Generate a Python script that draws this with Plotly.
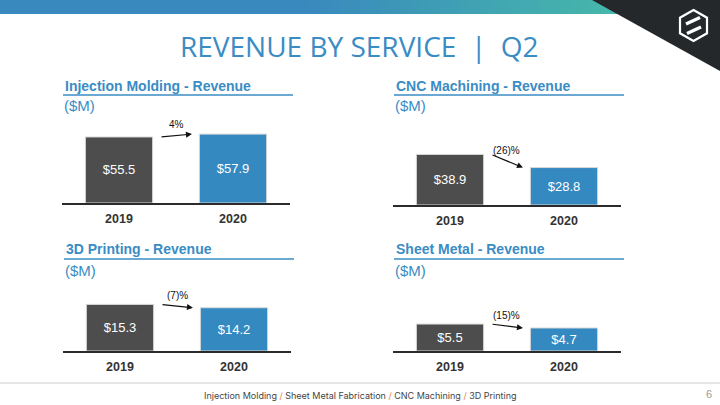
import plotly.graph_objects as go

W, H = 720, 405

# ---- data ----
years = ["2019", "2020"]
panel_titles = ["Injection Molding - Revenue", "CNC Machining - Revenue",
                "3D Printing - Revenue", "Sheet Metal - Revenue"]
injection_molding = [55.5, 57.9]
cnc_machining = [38.9, 28.8]
printing_3d = [15.3, 14.2]
sheet_metal = [5.5, 4.7]
value_labels = [["$55.5", "$57.9"], ["$38.9", "$28.8"], ["$15.3", "$14.2"], ["$5.5", "$4.7"]]
change_labels = ["4%", "(26)%", "(7)%", "(15)%"]
series = [injection_molding, cnc_machining, printing_3d, sheet_metal]

# ---- styling ----
BLUE = "#3589c1"
DARK = "#4d4d4d"
TITLE_BLUE = "#3a8cc4"


def px(x):
    return x / W


def py(y):
    return 1 - y / H


# panel geometry (pixels): x0, x1, baseline, top, y-range max
panels = [
    (62, 290, 203, 114, 74.8),
    (393, 621, 205, 114, 70.0),
    (63, 291, 351, 280, 23.3),
    (393, 621, 351, 280, 14.5),
]

fig = go.Figure()
shapes = []
annotations = []

for i, (vals, (x0, x1, yb, yt, ymax)) in enumerate(zip(series, panels)):
    n = "" if i == 0 else str(i + 1)
    xa, ya = "x" + n, "y" + n
    fig.add_trace(go.Bar(
        x=years, y=vals, xaxis=xa, yaxis=ya,
        marker=dict(color=[DARK, BLUE], line=dict(color="#d9d9d9", width=1)),
        text=value_labels[i], textposition="inside", insidetextanchor="middle",
        textfont=dict(color="white", size=13, family="Liberation Sans, Arial"),
        hoverinfo="skip", showlegend=False, cliponaxis=False,
    ))
    fig.update_layout(**{
        ("xaxis" + n): dict(domain=[px(x0), px(x1)], anchor=ya, showline=True,
                            linecolor="#2b2b2b", linewidth=1.5, showgrid=False,
                            zeroline=False, ticks="", fixedrange=True, ticklabelstandoff=3,
                            tickfont=dict(size=12.5, color="#333333",
                                          family="Liberation Sans, Arial", weight="bold")),
        ("yaxis" + n): dict(domain=[py(yb), py(yt)], anchor=xa, range=[0, ymax],
                            visible=False, showgrid=False, zeroline=False, fixedrange=True),
    })
    # arrow
    annotations.append(dict(
        xref=xa, yref=ya, axref=xa, ayref=ya,
        x=0.64, y=vals[1], ax=0.36, ay=vals[0], text="",
        showarrow=True, arrowhead=2, arrowsize=1, arrowwidth=1.2, arrowcolor="#111111",
    ))
    annotations.append(dict(
        xref=xa, yref=ya, x=0.5, y=(vals[0] + vals[1]) / 2, yshift=11,
        text=change_labels[i], showarrow=False,
        font=dict(size=10, color="#111111", family="Liberation Sans, Arial"),
    ))
    # panel title + underline + units
    annotations.append(dict(
        xref="paper", yref="paper", x=px(x0 + 1), y=py(86 if i < 2 else 249),
        xanchor="left", yanchor="middle", text="<b>%s</b>" % panel_titles[i],
        showarrow=False, font=dict(size=14, color=TITLE_BLUE, family="Liberation Sans, Arial"),
    ))
    annotations.append(dict(
        xref="paper", yref="paper", x=px(x0), y=py(105 if i < 2 else 270),
        xanchor="left", yanchor="middle", text="($M)",
        showarrow=False, font=dict(size=15, color=TITLE_BLUE, family="Liberation Sans, Arial"),
    ))
    uy = 95 if i < 2 else 259
    shapes.append(dict(type="line", xref="paper", yref="paper",
                       x0=px(x0 + 1), x1=px(x1 + 3), y0=py(uy), y1=py(uy),
                       line=dict(color=TITLE_BLUE, width=1.5)))

# top gradient bar
c0 = (57, 136, 190)
c1 = (70, 184, 170)
gx0, gx1 = 300, 620
shapes.append(dict(type="rect", xref="paper", yref="paper", x0=0, x1=px(gx0 + 1),
                   y0=py(14), y1=1, line=dict(width=0), fillcolor="rgb(%d,%d,%d)" % c0, layer="below"))
steps = 32
for k in range(steps):
    t = (k + 0.5) / steps
    col = tuple(int(round(a + (b - a) * t)) for a, b in zip(c0, c1))
    xa0 = gx0 + (gx1 - gx0) * k / steps
    xa1 = gx0 + (gx1 - gx0) * (k + 1) / steps + 0.8
    shapes.append(dict(type="rect", xref="paper", yref="paper", x0=px(xa0), x1=px(xa1),
                       y0=py(14), y1=1, line=dict(width=0),
                       fillcolor="rgb(%d,%d,%d)" % col, layer="below"))

# dark corner triangle
shapes.append(dict(type="path", xref="paper", yref="paper",
                   path="M %f,%f L %f,%f L %f,%f Z" % (px(592), py(0), px(720), py(0), px(720), py(71)),
                   fillcolor="#25282b", line=dict(width=0)))

# logo hexagon
cx, cy, r, hw = 693.5, 25.5, 15.5, 13.5
hexpts = [(cx, cy - r), (cx + hw, cy - r / 2), (cx + hw, cy + r / 2), (cx, cy + r),
          (cx - hw, cy + r / 2), (cx - hw, cy - r / 2)]
path = "M " + " L ".join("%f,%f" % (px(a), py(b)) for a, b in hexpts) + " Z"
shapes.append(dict(type="path", xref="paper", yref="paper", path=path,
                   line=dict(color="white", width=2.2), fillcolor="rgba(0,0,0,0)"))
for (a0, b0, a1, b1) in [(686, 24, 700, 17.5), (687, 33.5, 701, 27)]:
    shapes.append(dict(type="line", xref="paper", yref="paper",
                       x0=px(a0), y0=py(b0), x1=px(a1), y1=py(b1),
                       line=dict(color="white", width=3.2)))

# footer line
shapes.append(dict(type="line", xref="paper", yref="paper", x0=0, x1=1,
                   y0=py(383), y1=py(383), line=dict(color="#e6e6e6", width=2)))

# main title
annotations.append(dict(xref="paper", yref="paper", x=px(359.5), y=py(46),
                        xanchor="center", yanchor="middle",
                        text="REVENUE BY SERVICE&nbsp; |&nbsp; Q2", showarrow=False,
                        font=dict(size=28, color=TITLE_BLUE, family="Open Sans, Roboto",
                                  weight=400)))

# footer text
sl = "<span style='color:#e8833a'> / </span>"
annotations.append(dict(xref="paper", yref="paper", x=px(360), y=py(395),
                        xanchor="center", yanchor="middle",
                        text="Injection Molding" + sl + "Sheet Metal Fabrication" + sl +
                             "CNC Machining" + sl + "3D Printing",
                        showarrow=False, font=dict(size=9, color="#444444", family="Inter, Roboto")))
annotations.append(dict(xref="paper", yref="paper", x=px(709), y=py(394),
                        xanchor="center", yanchor="middle", text="6", showarrow=False,
                        font=dict(size=11, color="#9a9a9a", family="Liberation Sans, Arial")))

fig.update_layout(
    width=W, height=H, margin=dict(l=0, r=0, t=0, b=0),
    paper_bgcolor="white", plot_bgcolor="rgba(0,0,0,0)",
    bargap=0.41, shapes=shapes, annotations=annotations,
    font=dict(family="Liberation Sans, Arial"),
)

fig.write_html("out.html", config=dict(displayModeBar=False),
               post_script="document.body.style.margin='0';document.body.style.overflow='hidden';")
